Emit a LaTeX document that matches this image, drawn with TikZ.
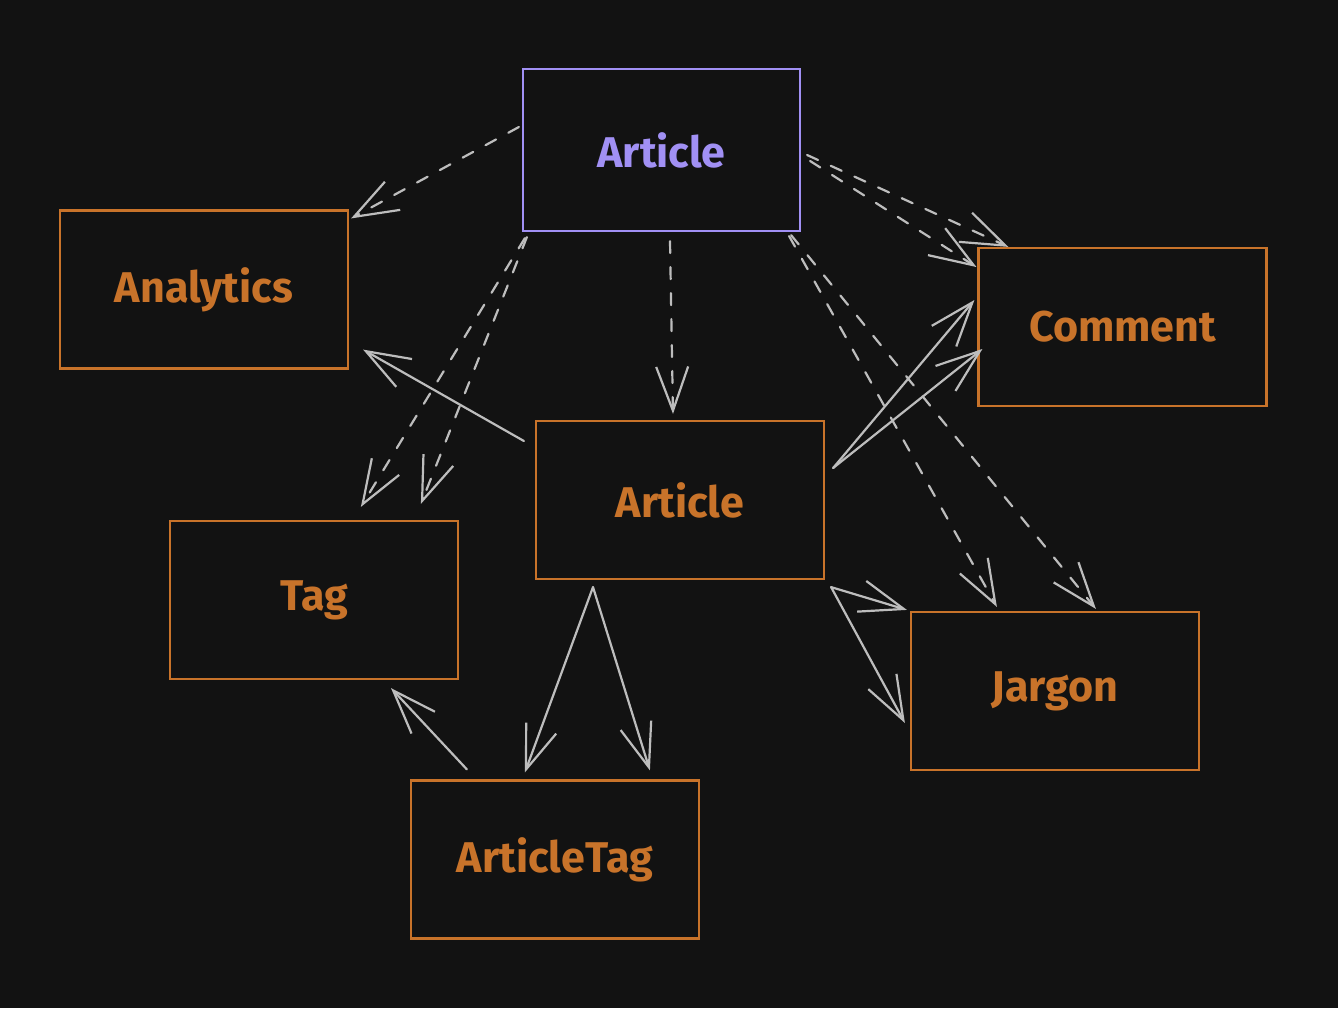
\documentclass[tikz,border=0pt]{standalone}
\usepackage{fontspec}
\setmainfont{Fira Sans}
\usetikzlibrary{arrows.meta,calc}
\definecolor{bg}{HTML}{121212}
\definecolor{orangeC}{HTML}{C8732A}
\definecolor{purpleC}{HTML}{A190F4}
\definecolor{lineC}{HTML}{BDBDBD}
\begin{document}
\begin{tikzpicture}[x=0.5pt,y=-0.5pt,
  box/.style={draw=orangeC,text=orangeC,line width=1.1pt,minimum width=144pt,minimum height=79pt,inner sep=0pt,font=\fontsize{21.5}{24}\selectfont\bfseries},
  topbox/.style={box,draw=purpleC,text=purpleC,minimum width=138.5pt,minimum height=81pt},
  conn/.style={draw=lineC,line width=1.1pt,line cap=round,line join=round,-{Straight Barb[length=22pt,width=16pt,line width=1.1pt]}},
  dconn/.style={conn,dash pattern=on 6pt off 7pt}]
\fill[bg] (0,0) rectangle (1338,1008);
\useasboundingbox (0,0) rectangle (1338,1008);
\node[topbox] (arttop) at (661.5,150) {Article};
\node[box] (analytics) at (204,289.5) {Analytics};
\node[box] (comment) at (1122.5,327) {Comment};
\node[box] (artmid) at (680,500) {Article};
\node[box] (tag) at (314,600) {Tag};
\node[box] (jargon) at (1055,691) {Jargon};
\node[box] (articletag) at (555,859.5) {ArticleTag};
% dashed from top Article
\draw[dconn] ($(arttop.west)+(-3,-23)$) -- ($(analytics.north east)+(2,9)$);
\draw[dconn] ($(arttop.south west)+(3,6)$) -- ($(tag.north west)+(192,-13)$);
\draw[dconn] ($(arttop.south west)+(5,5)$) -- ($(tag.north west)+(252,-16)$);
\draw[dconn] ($(arttop.south)+(8.5,9)$) -- ($(artmid.north)+(-7,-6)$);
\draw[dconn] ($(arttop.east)+(6,5)$) -- ($(comment.north west)+(31,0)$);
\draw[dconn] ($(arttop.east)+(9,11)$) -- ($(comment.west)+(-1,-60)$);
\draw[dconn] ($(arttop.south east)+(-12,4)$) -- ($(jargon.north west)+(87,-4)$);
\draw[dconn] ($(arttop.south east)+(-10,3)$) -- ($(jargon.north west)+(186,-2)$);
% solid from middle Article
\draw[conn] ($(artmid.west)+(-11,-59)$) -- ($(analytics.south east)+(14,-20)$);
\draw[conn] ($(artmid.east)+(8,-32)$) -- ($(comment.west)+(-3,-27)$);
\draw[conn] ($(artmid.east)+(8,-32)$) -- ($(comment.west)+(5,22)$);
\draw[conn] ($(artmid.south east)+(6,7)$) -- ($(jargon.north west)+(-3,-1)$);
\draw[conn] ($(artmid.south east)+(6,7)$) -- ($(jargon.west)+(-5,32)$);
\draw[conn] ($(artmid.south)+(-87,7)$) -- ($(articletag.north west)+(115,-7)$);
\draw[conn] ($(artmid.south)+(-87,7)$) -- ($(articletag.north west)+(240,-9)$);
\draw[conn] ($(articletag.north west)+(57,-10)$) -- ($(tag.south)+(77,8)$);
\end{tikzpicture}
\end{document}
